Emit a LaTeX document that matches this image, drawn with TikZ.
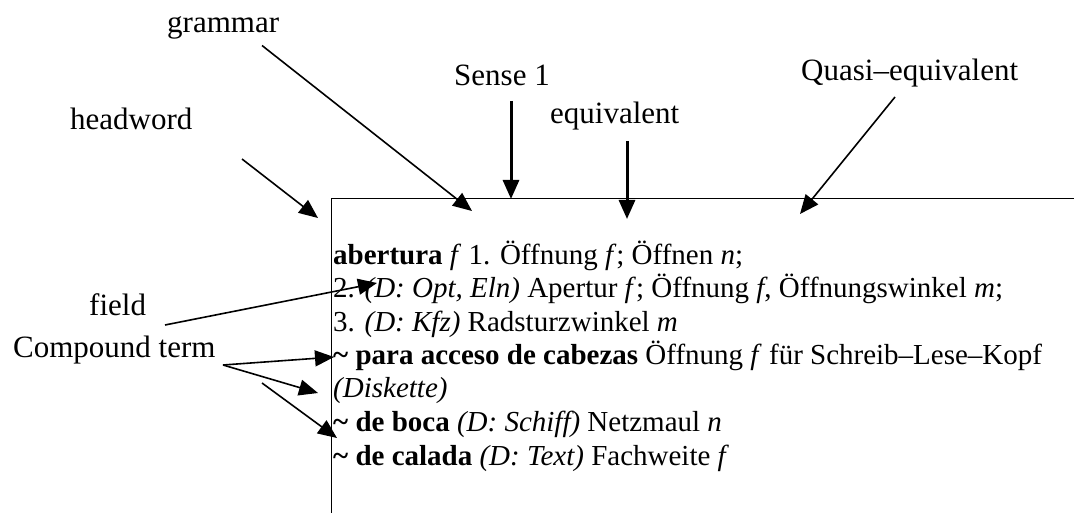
\documentclass[tikz,border=0pt]{standalone}
\usepackage{fontspec}
\setmainfont{Liberation Serif}
\usetikzlibrary{arrows.meta}
\begin{document}
\begin{tikzpicture}[x=1pt,y=-1pt,
  txt/.style={inner sep=0pt,anchor=base west,font=\fontsize{29}{33}\selectfont},
  lbl/.style={inner sep=0pt,anchor=base west,font=\fontsize{31}{36}\selectfont},
  arr/.style={line width=1.6pt,-{Triangle[length=19pt,width=16pt]}},
  thickarr/.style={line width=3pt,-{Triangle[length=19pt,width=16pt]}}]
\useasboundingbox (0,0) rectangle (1074,513);
% frame
\draw[line width=1pt] (331,513) -- (331,199) -- (1074,199);
% entry text
\node[txt] (l1) at (333,265) {\textbf{abertura} \textit{f} 1. Öffnung \textit{f}; Öffnen \textit{n};};
\node[txt] (l2) at (333,298) {2. \textit{(D: Opt, Eln)} Apertur \textit{f}; Öffnung \textit{f}, Öffnungswinkel \textit{m};};
\node[txt] (l3) at (333,331) {3. \textit{(D: Kfz)} Radsturzwinkel \textit{m}};
\node[txt] (l4) at (333,364) {\textbf{\char`~\ para acceso de cabezas} Öffnung \textit{f} für Schreib–Lese–Kopf};
\node[txt] (l5) at (333,397) {\textit{(Diskette)}};
\node[txt] (l6) at (333,431) {\textbf{\char`~\ de boca} \textit{(D: Schiff)} Netzmaul \textit{n}};
\node[txt] (l7) at (333,465) {\textbf{\char`~\ de calada} \textit{(D: Text)} Fachweite \textit{f}};
% labels
\node[lbl] (grammar) at (167,32.5) {grammar};
\node[lbl] (headword) at (70,130) {headword};
\node[lbl] (sense) at (454,86) {Sense 1};
\node[lbl] (equiv) at (550,123.5) {equivalent};
\node[lbl] (quasi) at (801,81) {Quasi–equivalent};
\node[lbl] (field) at (89,315) {field};
\node[lbl] (compound) at (13,357) {Compound term};
% arrow endpoints
\coordinate (gS) at (262,45.5); \coordinate (gT) at (472,211);
\coordinate (hS) at (242,159);  \coordinate (hT) at (318,218);
\coordinate (sS) at (511,101);  \coordinate (sT) at (511,199);
\coordinate (eS) at (627,141);  \coordinate (eT) at (627,219);
\coordinate (qS) at (895,97);   \coordinate (qT) at (800,214);
\coordinate (fS) at (165,325);  \coordinate (fT) at (377,283);
\coordinate (cS) at (223,365);  \coordinate (c1T) at (334,357);
\coordinate (c2T) at (318,393);
\coordinate (c3S) at (262,383); \coordinate (c3T) at (337,438);
% arrows
\draw[arr] (gS) -- (gT);
\draw[arr] (hS) -- (hT);
\draw[thickarr] (sS) -- (sT);
\draw[thickarr] (eS) -- (eT);
\draw[arr] (qS) -- (qT);
\draw[arr] (fS) -- (fT);
\draw[arr] (cS) -- (c1T);
\draw[arr] (cS) -- (c2T);
\draw[arr] (c3S) -- (c3T);
\end{tikzpicture}
\end{document}
